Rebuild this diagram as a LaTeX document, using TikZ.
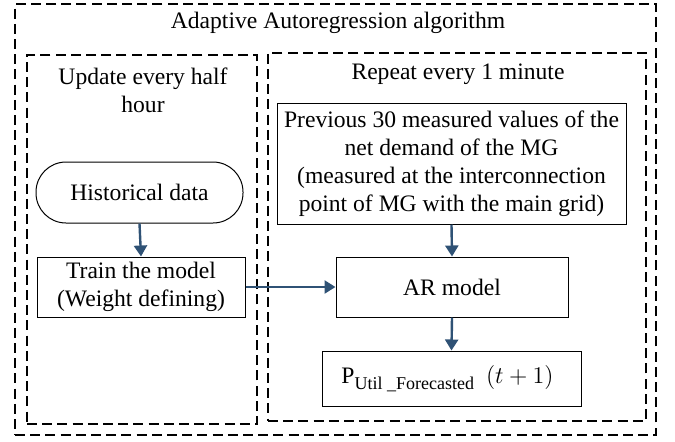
\documentclass[tikz,border=0pt]{standalone}
\usepackage{fontspec}
\setmainfont{Liberation Serif}
\usetikzlibrary{arrows.meta}
\definecolor{arrowblue}{RGB}{47,82,117}
\tikzset{
  dbox/.style={draw, dash pattern=on 5pt off 2.6pt, line width=0.7pt, inner sep=0pt},
  fbox/.style={draw, line width=0.5pt, align=center, inner sep=1pt, font=\fontsize{11.8}{14}\selectfont},
  lbl/.style={align=center, inner sep=0pt, font=\fontsize{11.8}{14}\selectfont},
  flow/.style={draw=arrowblue, line width=1.2pt, -{Triangle[width=6.5pt,length=5.5pt]}},
}
\begin{document}
\begin{tikzpicture}[x=0.5pt,y=-0.5pt]
\useasboundingbox (0,0) rectangle (675,441);
\node[dbox, minimum width=320.5pt, minimum height=215.5pt] (outer) at (335.5,219.5) {};
\node[dbox, minimum width=115pt, minimum height=184.5pt] (left) at (142,239.5) {};
\node[dbox, minimum width=189pt, minimum height=184pt] (right) at (457,237) {};
\node[lbl] (title) at (338,23) {Adaptive Autoregression algorithm};
\node[lbl] (upd) at (143,90) {Update every half\\hour};
\node[lbl] (rep) at (458,74) {Repeat every 1 minute};
\node[fbox, minimum width=174.5pt, minimum height=60.5pt] (prev) at (451.5,163.5)
  {Previous 30 measured values of the\\net demand of the MG\\(measured at the interconnection\\point of MG with the main grid)};
\node[fbox, rounded corners=15pt, minimum width=103.5pt, minimum height=30.5pt] (hist) at (139.5,192.5) {Historical data};
\node[fbox, minimum width=104pt, minimum height=30pt] (train) at (141,287) {Train the model\\(Weight defining)};
\node[fbox, minimum width=116pt, minimum height=30pt] (ar) at (452,287) {AR model};
\node[fbox, minimum width=129.5pt, minimum height=27.5pt] (pout) at (451.5,378.5)
  {\hspace*{-4pt}P\raisebox{-3pt}{\fontsize{9}{9}\selectfont Util \_Forecasted}\hspace{6pt}{\fontsize{13}{14}\selectfont$(t+1)$}};
\draw[flow] (hist.south) -- (train.north);
\draw[flow] (prev.south) -- (ar.north);
\draw[flow] (ar.south) -- (pout.north);
\draw[flow] (train.east) -- (ar.west);
\end{tikzpicture}
\end{document}
